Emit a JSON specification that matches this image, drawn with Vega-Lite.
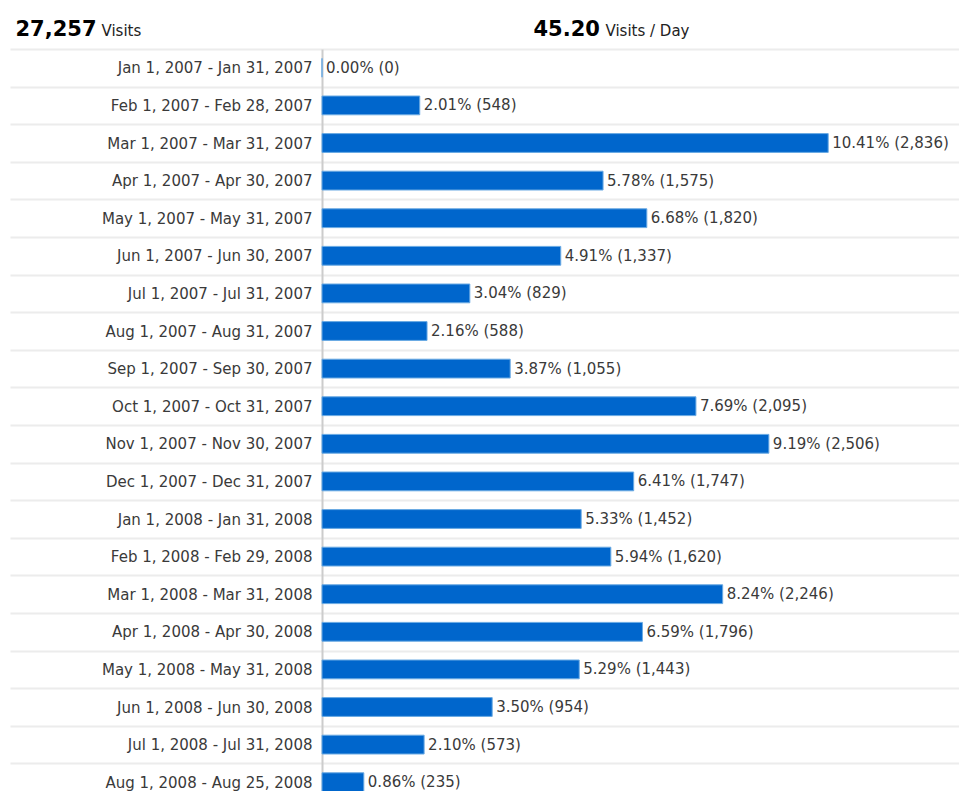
{
  "$schema": "https://vega.github.io/schema/vega-lite/v6.json",
  "width": 637,
  "height": 752,
  "autosize": "none",
  "padding": {"left": 322, "top": 49, "right": 0, "bottom": 0},
  "background": "white",
  "config": {"view": {"stroke": null}, "font": "DejaVu Sans"},
  "data": {
    "values": [
      {"period": "Jan 1, 2007 - Jan 31, 2007", "pct": 0.00, "visits": 0, "label": "0.00% (0)"},
      {"period": "Feb 1, 2007 - Feb 28, 2007", "pct": 2.01, "visits": 548, "label": "2.01% (548)"},
      {"period": "Mar 1, 2007 - Mar 31, 2007", "pct": 10.41, "visits": 2836, "label": "10.41% (2,836)"},
      {"period": "Apr 1, 2007 - Apr 30, 2007", "pct": 5.78, "visits": 1575, "label": "5.78% (1,575)"},
      {"period": "May 1, 2007 - May 31, 2007", "pct": 6.68, "visits": 1820, "label": "6.68% (1,820)"},
      {"period": "Jun 1, 2007 - Jun 30, 2007", "pct": 4.91, "visits": 1337, "label": "4.91% (1,337)"},
      {"period": "Jul 1, 2007 - Jul 31, 2007", "pct": 3.04, "visits": 829, "label": "3.04% (829)"},
      {"period": "Aug 1, 2007 - Aug 31, 2007", "pct": 2.16, "visits": 588, "label": "2.16% (588)"},
      {"period": "Sep 1, 2007 - Sep 30, 2007", "pct": 3.87, "visits": 1055, "label": "3.87% (1,055)"},
      {"period": "Oct 1, 2007 - Oct 31, 2007", "pct": 7.69, "visits": 2095, "label": "7.69% (2,095)"},
      {"period": "Nov 1, 2007 - Nov 30, 2007", "pct": 9.19, "visits": 2506, "label": "9.19% (2,506)"},
      {"period": "Dec 1, 2007 - Dec 31, 2007", "pct": 6.41, "visits": 1747, "label": "6.41% (1,747)"},
      {"period": "Jan 1, 2008 - Jan 31, 2008", "pct": 5.33, "visits": 1452, "label": "5.33% (1,452)"},
      {"period": "Feb 1, 2008 - Feb 29, 2008", "pct": 5.94, "visits": 1620, "label": "5.94% (1,620)"},
      {"period": "Mar 1, 2008 - Mar 31, 2008", "pct": 8.24, "visits": 2246, "label": "8.24% (2,246)"},
      {"period": "Apr 1, 2008 - Apr 30, 2008", "pct": 6.59, "visits": 1796, "label": "6.59% (1,796)"},
      {"period": "May 1, 2008 - May 31, 2008", "pct": 5.29, "visits": 1443, "label": "5.29% (1,443)"},
      {"period": "Jun 1, 2008 - Jun 30, 2008", "pct": 3.50, "visits": 954, "label": "3.50% (954)"},
      {"period": "Jul 1, 2008 - Jul 31, 2008", "pct": 2.10, "visits": 573, "label": "2.10% (573)"},
      {"period": "Aug 1, 2008 - Aug 25, 2008", "pct": 0.86, "visits": 235, "label": "0.86% (235)"}
    ]
  },
  "layer": [
    {
      "mark": {"type": "bar", "color": "#0066cc", "stroke": "#6aaae3", "strokeWidth": 1, "height": {"band": 0.5}},
      "encoding": {
        "y": {
          "field": "period", "type": "nominal", "sort": null,
          "scale": {"paddingInner": 0, "paddingOuter": 0},
          "axis": {
            "orient": "left",
            "title": "27,257", "titleAngle": 0, "titleX": -307, "titleY": -14,
            "titleAlign": "left", "titleBaseline": "alphabetic",
            "titleFontSize": 21, "titleFontWeight": "bold", "titleColor": "#000000", "titleFont": "DejaVu Sans",
            "labelFontSize": 15, "labelColor": "#3a3a3a", "labelFont": "DejaVu Sans",
            "labelPadding": -302, "labelLimit": 400,
            "tickBand": "extent", "ticks": true, "tickSize": 312, "tickColor": "#ececec", "tickWidth": 2,
            "grid": true, "gridColor": "#ececec", "gridWidth": 2,
            "domain": true, "domainColor": "#cccccc", "domainWidth": 2
          }
        },
        "x": {
          "field": "pct", "type": "quantitative",
          "scale": {"domain": [0, 13.1], "nice": false},
          "axis": {
            "orient": "top", "labels": false, "ticks": false, "domain": false, "grid": false,
            "title": "45.20", "titleX": 211, "titleY": -14, "titleAlign": "left", "titleBaseline": "alphabetic",
            "titleFontSize": 21, "titleFontWeight": "bold", "titleColor": "#000000", "titleFont": "DejaVu Sans"
          }
        }
      }
    },
    {
      "mark": {"type": "text", "align": "left", "baseline": "middle", "dx": 4, "fontSize": 15, "color": "#3a3a3a", "font": "DejaVu Sans"},
      "encoding": {
        "y": {
          "field": "period", "type": "nominal", "sort": null,
          "axis": {
            "orient": "right", "labels": false, "ticks": false, "domain": false, "grid": false,
            "title": "Visits", "titleAngle": 0, "titleX": -858, "titleY": -14,
            "titleAlign": "left", "titleBaseline": "alphabetic",
            "titleFontSize": 15, "titleFontWeight": "normal", "titleColor": "#222222", "titleFont": "DejaVu Sans"
          }
        },
        "x": {
          "field": "pct", "type": "quantitative",
          "axis": {
            "orient": "bottom", "labels": false, "ticks": false, "domain": false, "grid": false,
            "title": "Visits / Day", "titleX": 283, "titleY": -766, "titleAlign": "left", "titleBaseline": "alphabetic",
            "titleFontSize": 15, "titleFontWeight": "normal", "titleColor": "#222222", "titleFont": "DejaVu Sans"
          }
        },
        "text": {"field": "label", "type": "nominal"}
      }
    }
  ],
  "resolve": {"axis": {"x": "independent", "y": "independent"}}
}
